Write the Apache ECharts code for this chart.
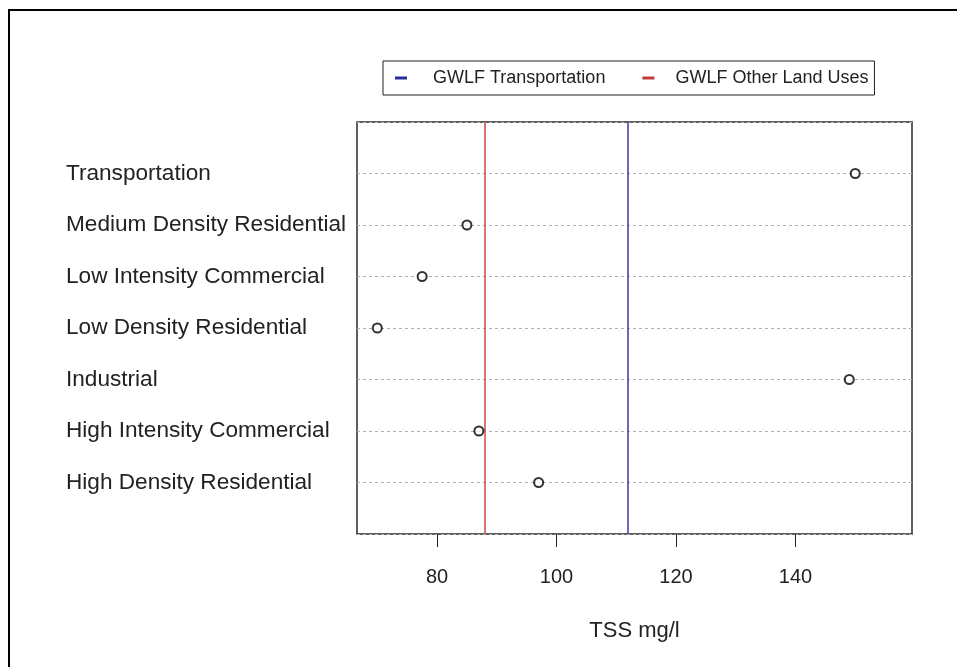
<!DOCTYPE html>
<html>
<head>
<meta charset="utf-8">
<script src="https://cdn.jsdelivr.net/npm/echarts@6/dist/echarts.min.js"></script>
<style>
  html, body { margin: 0; padding: 0; background: #fff; }
  #chart { width: 957px; height: 667px; }
</style>
</head>
<body>
<div id="chart"></div>
<script>
// Land-use categories, listed bottom to top as they appear on the chart
const categories = [
  'High Density Residential',
  'High Intensity Commercial',
  'Industrial',
  'Low Density Residential',
  'Low Intensity Commercial',
  'Medium Density Residential',
  'Transportation'
];
// Event mean TSS concentration per land use (mg/l)
const tssValues = [97, 87, 149, 70, 77.5, 85, 150];
// GWLF reference concentrations (mg/l)
const gwlfTransportation = 112;
const gwlfOtherLandUses = 88;
// X-axis tick values
const xTicks = [80, 100, 120, 140];

const FONT = '"Liberation Sans", Arial, sans-serif';

const chart = echarts.init(document.getElementById('chart'), null, { renderer: 'canvas' });

const option = {
  backgroundColor: '#fff',
  animation: false,
  graphic: [{
    type: 'rect',
    shape: { x: 9, y: 10, width: 1000, height: 1000 },
    style: { fill: 'none', stroke: '#000', lineWidth: 2 },
    silent: true
  }],
  legend: {
    left: 383,
    top: 61,
    orient: 'horizontal',
    borderColor: '#222',
    borderWidth: 1,
    padding: [8, 6, 8, 12],
    itemWidth: 12,
    itemHeight: 3,
    itemGap: 37,
    icon: 'path://M0,2H12V5H0Z',
    textStyle: { fontFamily: FONT, fontSize: 18, color: '#222' },
    data: [
      { name: 'GWLF Transportation', textStyle: { padding: [0, 0, 0, 21] } },
      { name: 'GWLF Other Land Uses', textStyle: { padding: [0, 0, 0, 16] } }
    ]
  },
  grid: {
    left: 357,
    right: 45,
    top: 122,
    bottom: 133,
    show: true,
    borderColor: '#2a2a2a',
    borderWidth: 1.5,
    containLabel: false
  },
  xAxis: {
    type: 'value',
    min: 66.6,
    max: 159.5,
    name: 'TSS mg/l',
    nameLocation: 'middle',
    nameGap: 86,
    nameTextStyle: { fontFamily: FONT, fontSize: 22, color: '#222' },
    axisLine: { show: false },
    splitLine: { show: false },
    axisTick: {
      show: true,
      length: 13,
      customValues: xTicks,
      lineStyle: { color: '#222', width: 1 }
    },
    axisLabel: {
      customValues: xTicks,
      margin: 33,
      fontFamily: FONT,
      fontSize: 20,
      color: '#222'
    }
  },
  yAxis: {
    type: 'value',
    min: 0,
    max: 8,
    interval: 1,
    axisLine: { show: false },
    axisTick: { show: false },
    splitLine: {
      show: true,
      lineStyle: { color: '#b0b0b0', type: [3, 3], width: 1 }
    },
    axisLabel: {
      align: 'left',
      margin: 291,
      padding: [4, 0, 0, 0],
      fontFamily: FONT,
      fontSize: 22.6,
      color: '#222',
      formatter: function (v) {
        const i = Math.round(v) - 1;
        return (i >= 0 && i < categories.length) ? categories[i] : '';
      }
    }
  },
  series: [
    {
      name: 'TSS',
      type: 'scatter',
      symbol: 'emptyCircle',
      symbolSize: 9,
      itemStyle: { color: '#000', borderColor: '#000', borderWidth: 1.5 },
      data: tssValues.map((v, i) => [v, i + 1]),
      z: 5
    },
    {
      name: 'GWLF Transportation',
      type: 'line',
      data: [],
      itemStyle: { color: '#2b2b9a' },
      lineStyle: { color: '#2b2b9a' },
      markLine: {
        silent: true,
        symbol: 'none',
        label: { show: false },
        lineStyle: { color: '#3a3aa8', width: 1.5, type: 'solid' },
        data: [{ xAxis: gwlfTransportation }]
      }
    },
    {
      name: 'GWLF Other Land Uses',
      type: 'line',
      data: [],
      itemStyle: { color: '#c43a3a' },
      lineStyle: { color: '#c43a3a' },
      markLine: {
        silent: true,
        symbol: 'none',
        label: { show: false },
        lineStyle: { color: '#c84848', width: 1.5, type: 'solid' },
        data: [{ xAxis: gwlfOtherLandUses }]
      }
    }
  ]
};

chart.setOption(option);
</script>
</body>
</html>
